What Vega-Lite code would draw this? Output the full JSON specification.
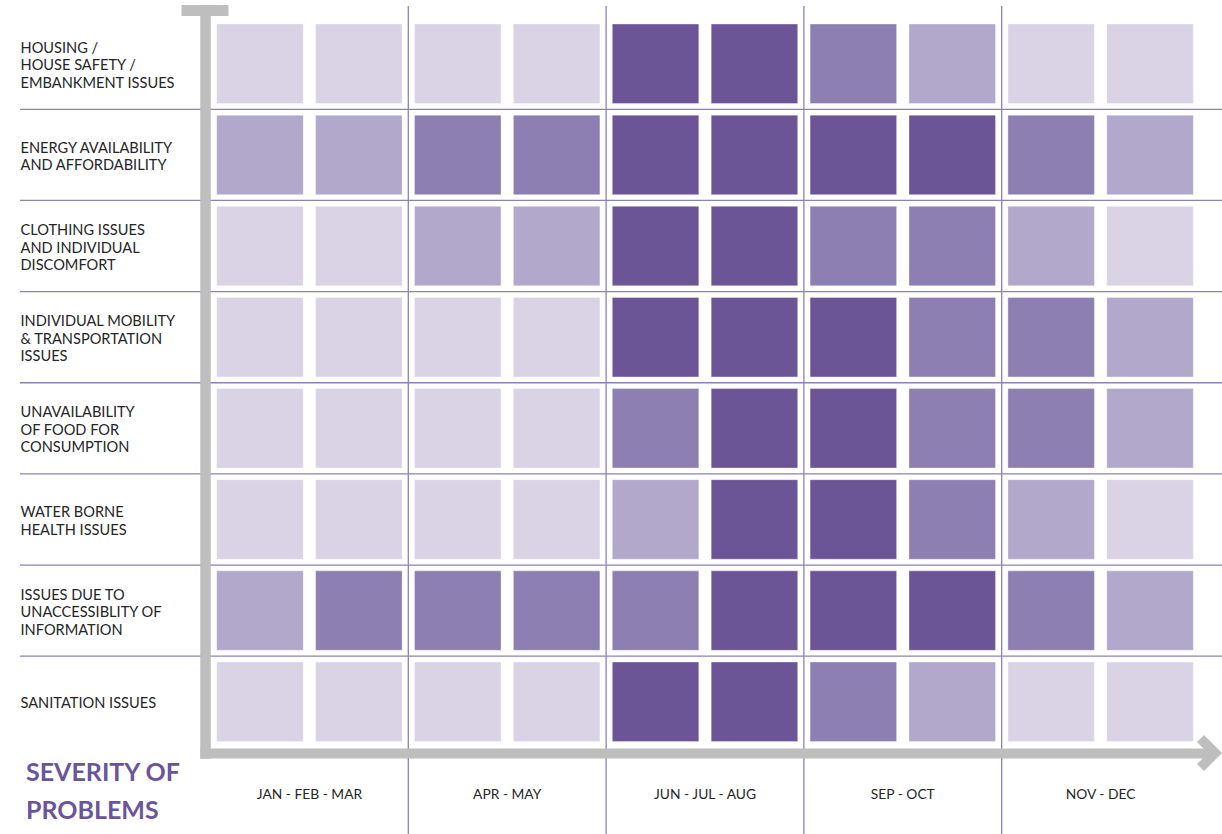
{
  "$schema": "https://vega.github.io/schema/vega-lite/v6.json",
  "width": 1202,
  "height": 828,
  "autosize": {"type": "none"},
  "padding": {"left": 20, "top": 6, "right": 0, "bottom": 0},
  "background": "#ffffff",
  "config": {"view": {"stroke": null}},
  "title": {
    "text": ["SEVERITY OF", "PROBLEMS"],
    "orient": "bottom",
    "anchor": "start",
    "frame": "group",
    "offset": -74,
    "dx": 6,
    "baseline": "top",
    "font": "Lato",
    "fontSize": 25,
    "fontWeight": "bold",
    "lineHeight": 38,
    "color": "#6a559b"
  },
  "datasets": {
    "cells": [
      {"problem": "HOUSING /|HOUSE SAFETY /|EMBANKMENT ISSUES", "period": "JAN - FEB - MAR", "half": 1, "level": 1},
      {"problem": "HOUSING /|HOUSE SAFETY /|EMBANKMENT ISSUES", "period": "JAN - FEB - MAR", "half": 2, "level": 1},
      {"problem": "HOUSING /|HOUSE SAFETY /|EMBANKMENT ISSUES", "period": "APR - MAY", "half": 1, "level": 1},
      {"problem": "HOUSING /|HOUSE SAFETY /|EMBANKMENT ISSUES", "period": "APR - MAY", "half": 2, "level": 1},
      {"problem": "HOUSING /|HOUSE SAFETY /|EMBANKMENT ISSUES", "period": "JUN - JUL - AUG", "half": 1, "level": 4},
      {"problem": "HOUSING /|HOUSE SAFETY /|EMBANKMENT ISSUES", "period": "JUN - JUL - AUG", "half": 2, "level": 4},
      {"problem": "HOUSING /|HOUSE SAFETY /|EMBANKMENT ISSUES", "period": "SEP - OCT", "half": 1, "level": 3},
      {"problem": "HOUSING /|HOUSE SAFETY /|EMBANKMENT ISSUES", "period": "SEP - OCT", "half": 2, "level": 2},
      {"problem": "HOUSING /|HOUSE SAFETY /|EMBANKMENT ISSUES", "period": "NOV - DEC", "half": 1, "level": 1},
      {"problem": "HOUSING /|HOUSE SAFETY /|EMBANKMENT ISSUES", "period": "NOV - DEC", "half": 2, "level": 1},

      {"problem": "ENERGY AVAILABILITY|AND AFFORDABILITY", "period": "JAN - FEB - MAR", "half": 1, "level": 2},
      {"problem": "ENERGY AVAILABILITY|AND AFFORDABILITY", "period": "JAN - FEB - MAR", "half": 2, "level": 2},
      {"problem": "ENERGY AVAILABILITY|AND AFFORDABILITY", "period": "APR - MAY", "half": 1, "level": 3},
      {"problem": "ENERGY AVAILABILITY|AND AFFORDABILITY", "period": "APR - MAY", "half": 2, "level": 3},
      {"problem": "ENERGY AVAILABILITY|AND AFFORDABILITY", "period": "JUN - JUL - AUG", "half": 1, "level": 4},
      {"problem": "ENERGY AVAILABILITY|AND AFFORDABILITY", "period": "JUN - JUL - AUG", "half": 2, "level": 4},
      {"problem": "ENERGY AVAILABILITY|AND AFFORDABILITY", "period": "SEP - OCT", "half": 1, "level": 4},
      {"problem": "ENERGY AVAILABILITY|AND AFFORDABILITY", "period": "SEP - OCT", "half": 2, "level": 4},
      {"problem": "ENERGY AVAILABILITY|AND AFFORDABILITY", "period": "NOV - DEC", "half": 1, "level": 3},
      {"problem": "ENERGY AVAILABILITY|AND AFFORDABILITY", "period": "NOV - DEC", "half": 2, "level": 2},

      {"problem": "CLOTHING ISSUES|AND INDIVIDUAL|DISCOMFORT", "period": "JAN - FEB - MAR", "half": 1, "level": 1},
      {"problem": "CLOTHING ISSUES|AND INDIVIDUAL|DISCOMFORT", "period": "JAN - FEB - MAR", "half": 2, "level": 1},
      {"problem": "CLOTHING ISSUES|AND INDIVIDUAL|DISCOMFORT", "period": "APR - MAY", "half": 1, "level": 2},
      {"problem": "CLOTHING ISSUES|AND INDIVIDUAL|DISCOMFORT", "period": "APR - MAY", "half": 2, "level": 2},
      {"problem": "CLOTHING ISSUES|AND INDIVIDUAL|DISCOMFORT", "period": "JUN - JUL - AUG", "half": 1, "level": 4},
      {"problem": "CLOTHING ISSUES|AND INDIVIDUAL|DISCOMFORT", "period": "JUN - JUL - AUG", "half": 2, "level": 4},
      {"problem": "CLOTHING ISSUES|AND INDIVIDUAL|DISCOMFORT", "period": "SEP - OCT", "half": 1, "level": 3},
      {"problem": "CLOTHING ISSUES|AND INDIVIDUAL|DISCOMFORT", "period": "SEP - OCT", "half": 2, "level": 3},
      {"problem": "CLOTHING ISSUES|AND INDIVIDUAL|DISCOMFORT", "period": "NOV - DEC", "half": 1, "level": 2},
      {"problem": "CLOTHING ISSUES|AND INDIVIDUAL|DISCOMFORT", "period": "NOV - DEC", "half": 2, "level": 1},

      {"problem": "INDIVIDUAL MOBILITY|& TRANSPORTATION|ISSUES", "period": "JAN - FEB - MAR", "half": 1, "level": 1},
      {"problem": "INDIVIDUAL MOBILITY|& TRANSPORTATION|ISSUES", "period": "JAN - FEB - MAR", "half": 2, "level": 1},
      {"problem": "INDIVIDUAL MOBILITY|& TRANSPORTATION|ISSUES", "period": "APR - MAY", "half": 1, "level": 1},
      {"problem": "INDIVIDUAL MOBILITY|& TRANSPORTATION|ISSUES", "period": "APR - MAY", "half": 2, "level": 1},
      {"problem": "INDIVIDUAL MOBILITY|& TRANSPORTATION|ISSUES", "period": "JUN - JUL - AUG", "half": 1, "level": 4},
      {"problem": "INDIVIDUAL MOBILITY|& TRANSPORTATION|ISSUES", "period": "JUN - JUL - AUG", "half": 2, "level": 4},
      {"problem": "INDIVIDUAL MOBILITY|& TRANSPORTATION|ISSUES", "period": "SEP - OCT", "half": 1, "level": 4},
      {"problem": "INDIVIDUAL MOBILITY|& TRANSPORTATION|ISSUES", "period": "SEP - OCT", "half": 2, "level": 3},
      {"problem": "INDIVIDUAL MOBILITY|& TRANSPORTATION|ISSUES", "period": "NOV - DEC", "half": 1, "level": 3},
      {"problem": "INDIVIDUAL MOBILITY|& TRANSPORTATION|ISSUES", "period": "NOV - DEC", "half": 2, "level": 2},

      {"problem": "UNAVAILABILITY|OF FOOD FOR|CONSUMPTION", "period": "JAN - FEB - MAR", "half": 1, "level": 1},
      {"problem": "UNAVAILABILITY|OF FOOD FOR|CONSUMPTION", "period": "JAN - FEB - MAR", "half": 2, "level": 1},
      {"problem": "UNAVAILABILITY|OF FOOD FOR|CONSUMPTION", "period": "APR - MAY", "half": 1, "level": 1},
      {"problem": "UNAVAILABILITY|OF FOOD FOR|CONSUMPTION", "period": "APR - MAY", "half": 2, "level": 1},
      {"problem": "UNAVAILABILITY|OF FOOD FOR|CONSUMPTION", "period": "JUN - JUL - AUG", "half": 1, "level": 3},
      {"problem": "UNAVAILABILITY|OF FOOD FOR|CONSUMPTION", "period": "JUN - JUL - AUG", "half": 2, "level": 4},
      {"problem": "UNAVAILABILITY|OF FOOD FOR|CONSUMPTION", "period": "SEP - OCT", "half": 1, "level": 4},
      {"problem": "UNAVAILABILITY|OF FOOD FOR|CONSUMPTION", "period": "SEP - OCT", "half": 2, "level": 3},
      {"problem": "UNAVAILABILITY|OF FOOD FOR|CONSUMPTION", "period": "NOV - DEC", "half": 1, "level": 3},
      {"problem": "UNAVAILABILITY|OF FOOD FOR|CONSUMPTION", "period": "NOV - DEC", "half": 2, "level": 2},

      {"problem": "WATER BORNE|HEALTH ISSUES", "period": "JAN - FEB - MAR", "half": 1, "level": 1},
      {"problem": "WATER BORNE|HEALTH ISSUES", "period": "JAN - FEB - MAR", "half": 2, "level": 1},
      {"problem": "WATER BORNE|HEALTH ISSUES", "period": "APR - MAY", "half": 1, "level": 1},
      {"problem": "WATER BORNE|HEALTH ISSUES", "period": "APR - MAY", "half": 2, "level": 1},
      {"problem": "WATER BORNE|HEALTH ISSUES", "period": "JUN - JUL - AUG", "half": 1, "level": 2},
      {"problem": "WATER BORNE|HEALTH ISSUES", "period": "JUN - JUL - AUG", "half": 2, "level": 4},
      {"problem": "WATER BORNE|HEALTH ISSUES", "period": "SEP - OCT", "half": 1, "level": 4},
      {"problem": "WATER BORNE|HEALTH ISSUES", "period": "SEP - OCT", "half": 2, "level": 3},
      {"problem": "WATER BORNE|HEALTH ISSUES", "period": "NOV - DEC", "half": 1, "level": 2},
      {"problem": "WATER BORNE|HEALTH ISSUES", "period": "NOV - DEC", "half": 2, "level": 1},

      {"problem": "ISSUES DUE TO|UNACCESSIBLITY OF|INFORMATION", "period": "JAN - FEB - MAR", "half": 1, "level": 2},
      {"problem": "ISSUES DUE TO|UNACCESSIBLITY OF|INFORMATION", "period": "JAN - FEB - MAR", "half": 2, "level": 3},
      {"problem": "ISSUES DUE TO|UNACCESSIBLITY OF|INFORMATION", "period": "APR - MAY", "half": 1, "level": 3},
      {"problem": "ISSUES DUE TO|UNACCESSIBLITY OF|INFORMATION", "period": "APR - MAY", "half": 2, "level": 3},
      {"problem": "ISSUES DUE TO|UNACCESSIBLITY OF|INFORMATION", "period": "JUN - JUL - AUG", "half": 1, "level": 3},
      {"problem": "ISSUES DUE TO|UNACCESSIBLITY OF|INFORMATION", "period": "JUN - JUL - AUG", "half": 2, "level": 4},
      {"problem": "ISSUES DUE TO|UNACCESSIBLITY OF|INFORMATION", "period": "SEP - OCT", "half": 1, "level": 4},
      {"problem": "ISSUES DUE TO|UNACCESSIBLITY OF|INFORMATION", "period": "SEP - OCT", "half": 2, "level": 4},
      {"problem": "ISSUES DUE TO|UNACCESSIBLITY OF|INFORMATION", "period": "NOV - DEC", "half": 1, "level": 3},
      {"problem": "ISSUES DUE TO|UNACCESSIBLITY OF|INFORMATION", "period": "NOV - DEC", "half": 2, "level": 2},

      {"problem": "SANITATION ISSUES", "period": "JAN - FEB - MAR", "half": 1, "level": 1},
      {"problem": "SANITATION ISSUES", "period": "JAN - FEB - MAR", "half": 2, "level": 1},
      {"problem": "SANITATION ISSUES", "period": "APR - MAY", "half": 1, "level": 1},
      {"problem": "SANITATION ISSUES", "period": "APR - MAY", "half": 2, "level": 1},
      {"problem": "SANITATION ISSUES", "period": "JUN - JUL - AUG", "half": 1, "level": 4},
      {"problem": "SANITATION ISSUES", "period": "JUN - JUL - AUG", "half": 2, "level": 4},
      {"problem": "SANITATION ISSUES", "period": "SEP - OCT", "half": 1, "level": 3},
      {"problem": "SANITATION ISSUES", "period": "SEP - OCT", "half": 2, "level": 2},
      {"problem": "SANITATION ISSUES", "period": "NOV - DEC", "half": 1, "level": 1},
      {"problem": "SANITATION ISSUES", "period": "NOV - DEC", "half": 2, "level": 1}
    ],
    "rowBreaks": [
      {"problem": "ENERGY AVAILABILITY|AND AFFORDABILITY"},
      {"problem": "CLOTHING ISSUES|AND INDIVIDUAL|DISCOMFORT"},
      {"problem": "INDIVIDUAL MOBILITY|& TRANSPORTATION|ISSUES"},
      {"problem": "UNAVAILABILITY|OF FOOD FOR|CONSUMPTION"},
      {"problem": "WATER BORNE|HEALTH ISSUES"},
      {"problem": "ISSUES DUE TO|UNACCESSIBLITY OF|INFORMATION"},
      {"problem": "SANITATION ISSUES"}
    ],
    "periodBreaks": [
      {"period": "APR - MAY"},
      {"period": "JUN - JUL - AUG"},
      {"period": "SEP - OCT"},
      {"period": "NOV - DEC"}
    ],
    "axisEnds": [
      {"period": "JAN - FEB - MAR", "problem": "HOUSING /|HOUSE SAFETY /|EMBANKMENT ISSUES", "part": "cap"},
      {"period": "NOV - DEC", "problem": "SANITATION ISSUES", "part": "arrow"}
    ]
  },
  "layer": [
    {
      "data": {"name": "cells"},
      "mark": {"type": "rect", "stroke": "#ffffff", "strokeOpacity": 0.35, "strokeWidth": 1},
      "encoding": {
        "x": {
          "field": "period", "type": "nominal", "title": null,
          "scale": {"type": "band", "domain": ["JAN - FEB - MAR", "APR - MAY", "JUN - JUL - AUG", "SEP - OCT", "NOV - DEC"], "range": [185, 1185], "paddingInner": 0, "paddingOuter": 0.0278},
          "axis": {
            "orient": "bottom", "offset": -81, "ticks": false, "tickSize": 0, "labelPadding": 41,
            "labelBaseline": "middle", "labelAngle": 0, "labelFont": "Lato", "labelFontSize": 13.8, "labelColor": "#262626",
            "domain": true, "domainColor": "#bebebe", "domainWidth": 10, "domainCap": "square", "grid": false, "title": null
          }
        },
        "xOffset": {
          "field": "half", "type": "ordinal",
          "scale": {"type": "band", "domain": [1, 2], "paddingInner": 0.125, "paddingOuter": 0.0625}
        },
        "y": {
          "field": "problem", "type": "nominal", "title": null,
          "scale": {"type": "band", "domain": ["HOUSING /|HOUSE SAFETY /|EMBANKMENT ISSUES", "ENERGY AVAILABILITY|AND AFFORDABILITY", "CLOTHING ISSUES|AND INDIVIDUAL|DISCOMFORT", "INDIVIDUAL MOBILITY|& TRANSPORTATION|ISSUES", "UNAVAILABILITY|OF FOOD FOR|CONSUMPTION", "WATER BORNE|HEALTH ISSUES", "ISSUES DUE TO|UNACCESSIBLITY OF|INFORMATION", "SANITATION ISSUES"], "range": [4, 747], "paddingInner": 0.128, "paddingOuter": 0.14, "align": 0.549},
          "axis": {
            "orient": "left", "offset": -185, "ticks": false, "tickSize": 0, "labelPadding": 185,
            "labelAlign": "left", "labelBaseline": "middle", "labelExpr": "split(datum.label, '|')",
            "labelOffset": {
              "condition": [
                {"test": "length(split(datum.value, '|')) == 3", "value": -15},
                {"test": "length(split(datum.value, '|')) == 2", "value": -6.25}
              ],
              "value": 2.5
            },
            "labelLineHeight": 17.5, "labelFont": "Lato", "labelFontSize": 14.6, "labelColor": "#262626", "labelLimit": 400,
            "domain": true, "domainColor": "#bebebe", "domainWidth": 10.5, "domainCap": "square", "grid": false, "title": null
          }
        },
        "color": {
          "field": "level", "type": "ordinal",
          "scale": {"domain": [1, 2, 3, 4], "range": ["#d9d3e5", "#b2a8cc", "#8e7fb2", "#6b5597"]},
          "legend": null
        }
      }
    },
    {
      "data": {"name": "rowBreaks"},
      "mark": {"type": "rule", "color": "#8c82b4", "strokeWidth": 1.3},
      "encoding": {
        "y": {
          "field": "problem", "type": "nominal", "title": null, "bandPosition": -0.0734,
          "scale": {"type": "band", "domain": ["HOUSING /|HOUSE SAFETY /|EMBANKMENT ISSUES", "ENERGY AVAILABILITY|AND AFFORDABILITY", "CLOTHING ISSUES|AND INDIVIDUAL|DISCOMFORT", "INDIVIDUAL MOBILITY|& TRANSPORTATION|ISSUES", "UNAVAILABILITY|OF FOOD FOR|CONSUMPTION", "WATER BORNE|HEALTH ISSUES", "ISSUES DUE TO|UNACCESSIBLITY OF|INFORMATION", "SANITATION ISSUES"], "range": [4, 747], "paddingInner": 0.128, "paddingOuter": 0.14, "align": 0.549}
        }
      }
    },
    {
      "data": {"name": "periodBreaks"},
      "mark": {"type": "rule", "color": "#8c82b4", "strokeWidth": 1.3},
      "encoding": {
        "x": {
          "field": "period", "type": "nominal", "title": null, "bandPosition": 0,
          "scale": {"type": "band", "domain": ["JAN - FEB - MAR", "APR - MAY", "JUN - JUL - AUG", "SEP - OCT", "NOV - DEC"], "range": [185, 1185], "paddingInner": 0, "paddingOuter": 0.0278}
        }
      }
    },
    {
      "data": {"name": "axisEnds"},
      "mark": {"type": "point", "filled": true, "opacity": 1, "strokeWidth": 0, "size": 10000, "color": "#bebebe"},
      "encoding": {
        "x": {
          "field": "period", "type": "nominal", "title": null,
          "scale": {"type": "band", "domain": ["JAN - FEB - MAR", "APR - MAY", "JUN - JUL - AUG", "SEP - OCT", "NOV - DEC"], "range": [185, 1185], "paddingInner": 0, "paddingOuter": 0.0278}
        },
        "y": {
          "field": "problem", "type": "nominal", "title": null,
          "scale": {"type": "band", "domain": ["HOUSING /|HOUSE SAFETY /|EMBANKMENT ISSUES", "ENERGY AVAILABILITY|AND AFFORDABILITY", "CLOTHING ISSUES|AND INDIVIDUAL|DISCOMFORT", "INDIVIDUAL MOBILITY|& TRANSPORTATION|ISSUES", "UNAVAILABILITY|OF FOOD FOR|CONSUMPTION", "WATER BORNE|HEALTH ISSUES", "ISSUES DUE TO|UNACCESSIBLITY OF|INFORMATION", "SANITATION ISSUES"], "range": [4, 747], "paddingInner": 0.128, "paddingOuter": 0.14, "align": 0.549}
        },
        "shape": {
          "field": "part", "type": "nominal", "legend": null,
          "scale": {"domain": ["cap", "arrow"], "range": ["M-2.558,-1.174H-1.618V-0.954H-2.558Z", "M2.068,0.666L2.428,1.026L2.068,1.386L1.928,1.246L2.148,1.026L1.928,0.806Z"]}
        }
      }
    }
  ]
}
